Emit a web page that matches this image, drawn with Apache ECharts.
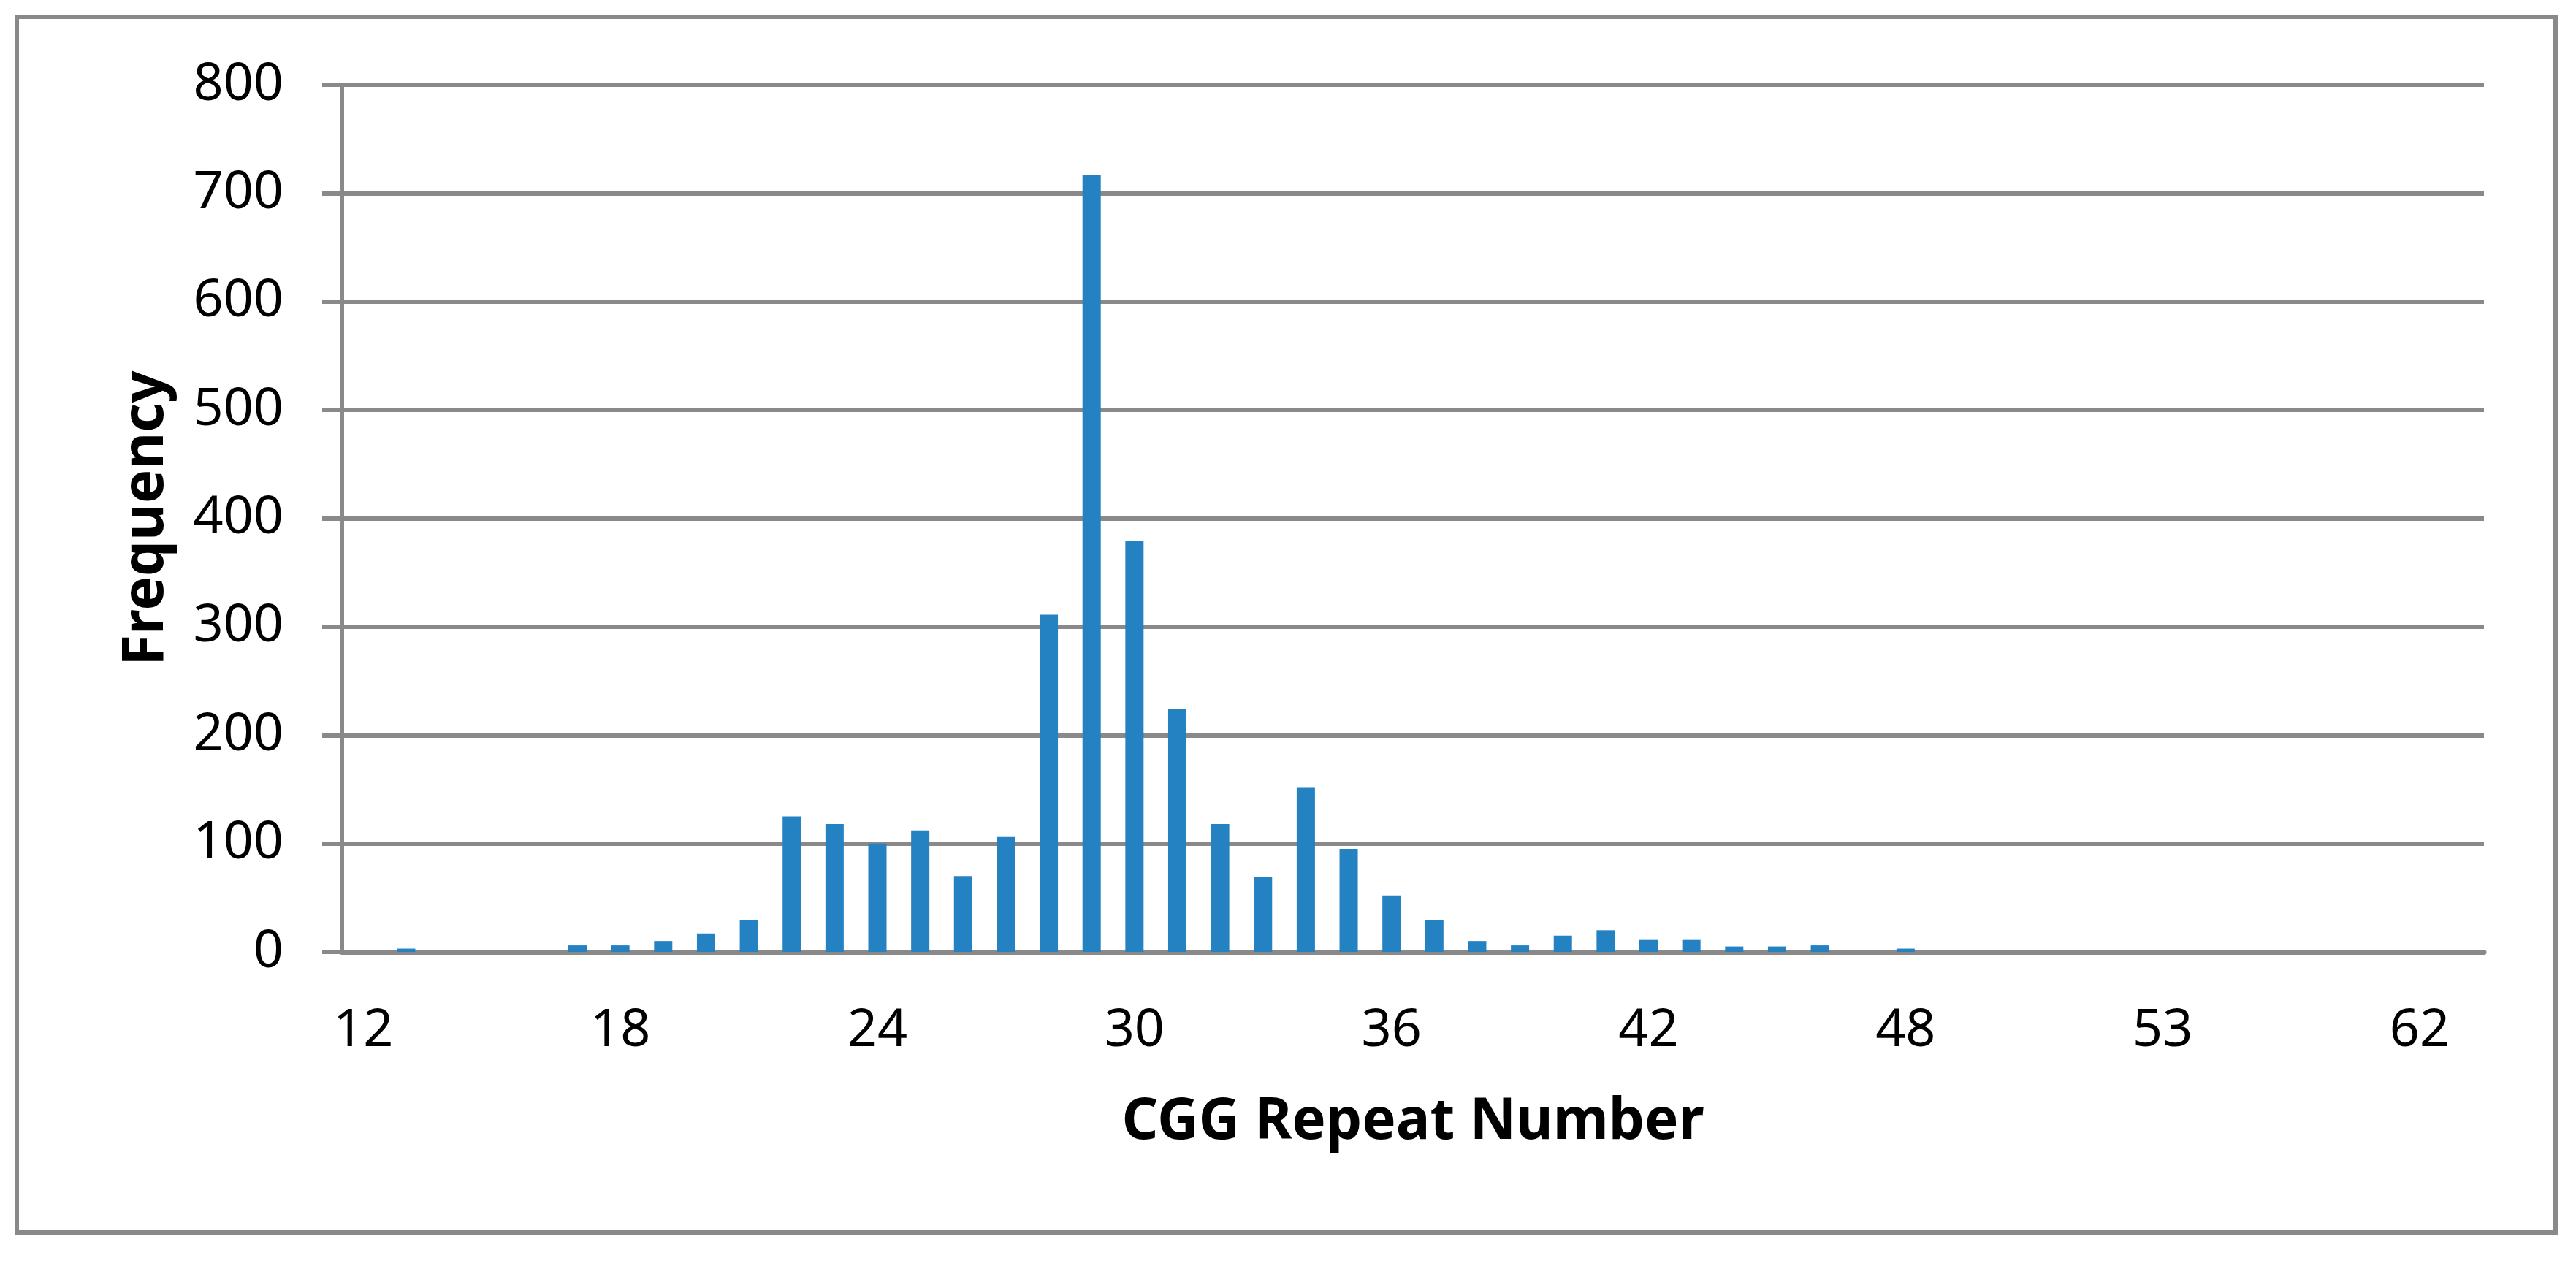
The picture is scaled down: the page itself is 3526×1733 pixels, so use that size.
<!DOCTYPE html>
<html>
<head>
<meta charset="utf-8">
<title>CGG Repeat Number</title>
<script src="https://cdn.jsdelivr.net/npm/echarts@6/dist/echarts.min.js"></script>
<style>
  html, body { margin: 0; padding: 0; background: #fff; }
  #chart { width: 3526px; height: 1733px; }
</style>
</head>
<body>
<div id="chart"></div>
<script>
// CGG repeat numbers (categories) and their counts
const repeatNumbers = [
  '12', '13', '14', '15', '16', '17', '18', '19', '20', '21',
  '22', '23', '24', '25', '26', '27', '28', '29', '30', '31',
  '32', '33', '34', '35', '36', '37', '38', '39', '40', '41',
  '42', '43', '44', '45', '46', '47', '48', '49', '50', '51',
  '52', '52.5', '53', '55', '56', '58', '59', '60', '62', '65'
];
const frequency = [
  0, 3, 0, 0, 0, 6, 6, 10, 17, 29,
  125, 118, 100, 112, 70, 106, 311, 717, 379, 224,
  118, 69, 152, 95, 52, 29, 10, 6, 15, 20,
  11, 11, 5, 5, 6, 0, 3, 0, 0, 0,
  0, 0, 0, 0, 0, 0, 0, 0, 0, 0
];
const yTicks = [0, 100, 200, 300, 400, 500, 600, 700, 800];

const gray = '#898989';
const font = 'Noto Sans';

const chart = echarts.init(document.getElementById('chart'));

const option = {
  backgroundColor: '#fff',
  animation: false,
  graphic: [{
    type: 'rect',
    shape: { x: 23, y: 23, width: 3475, height: 1664 },
    style: { fill: 'none', stroke: gray, lineWidth: 6 }
  }],
  grid: {
    left: 468,
    right: 126,
    top: 116,
    bottom: 430
  },
  xAxis: {
    type: 'category',
    data: repeatNumbers,
    name: 'CGG Repeat Number',
    nameLocation: 'middle',
    nameGap: 195,
    nameTextStyle: { fontFamily: font, fontSize: 78, fontWeight: 'bold', color: '#000' },
    axisLine: { lineStyle: { color: gray, width: 7 } },
    axisTick: { show: false },
    axisLabel: {
      interval: 5,
      margin: 72,
      fontFamily: font,
      fontSize: 72,
      color: '#000'
    },
    splitLine: { show: false }
  },
  yAxis: {
    type: 'value',
    min: yTicks[0],
    max: yTicks[yTicks.length - 1],
    interval: 100,
    name: 'Frequency',
    nameLocation: 'middle',
    nameGap: 228,
    nameTextStyle: { fontFamily: font, fontSize: 78, fontWeight: 'bold', color: '#000' },
    axisLine: { show: true, lineStyle: { color: gray, width: 6 } },
    axisTick: { show: true, length: 27, lineStyle: { color: gray, width: 6 } },
    axisLabel: {
      margin: 80,
      fontFamily: font,
      fontSize: 72,
      color: '#000'
    },
    splitLine: { lineStyle: { color: gray, width: 6 } }
  },
  series: [{
    type: 'bar',
    data: frequency,
    barWidth: 25,
    itemStyle: { color: '#2482C2' }
  }]
};

chart.setOption(option);
</script>
</body>
</html>
